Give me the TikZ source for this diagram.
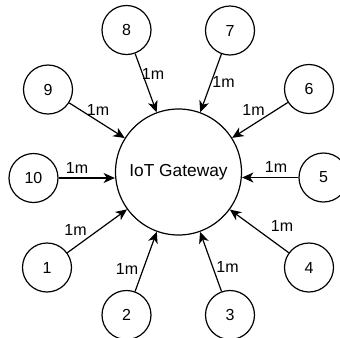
\documentclass[tikz,border=0pt]{standalone}
\usepackage{fontspec}
\setmainfont{Liberation Sans}
\usetikzlibrary{arrows.meta}
\begin{document}
\begin{tikzpicture}[x=0.75pt,y=-0.75pt,
  small/.style={circle,draw=black,line width=0.9pt,fill=white,minimum size=36.75pt,inner sep=0pt,font=\fontsize{12}{14}\selectfont},
  big/.style={circle,draw=black,line width=0.9pt,fill=white,minimum size=94.5pt,inner sep=0pt,font=\fontsize{13}{15}\selectfont},
  arr/.style={line width=0.9pt,-{Stealth[length=8.5pt,width=7.5pt,inset=2.5pt]}},
  lbl/.style={inner sep=0pt,font=\fontsize{12}{14}\selectfont}]
\useasboundingbox[fill=white] (0,0) rectangle (340,337);
\begin{scope}
\clip (0,0) rectangle (340,337);
\node[big] (gw) at (178.5,172) {IoT Gateway};
\node[small] (n8) at (126.5,30) {8};
\node[small] (n7) at (230,30.5) {7};
\node[small] (n9) at (48,89.5) {9};
\node[small] (n6) at (309,89) {6};
\node[small] (n10) at (33.5,178) {10};
\node[small] (n5) at (323.5,177.5) {5};
\node[small] (n1) at (47,267.5) {1};
\node[small] (n4) at (309,267.5) {4};
\node[small] (n2) at (126.5,315) {2};
\node[small] (n3) at (230,315) {3};
\draw[arr] (n8) -- (gw);
\draw[arr] (n7) -- (gw);
\draw[arr] (n9) -- (gw);
\draw[arr] (n6) -- (gw);
\draw[arr] (n10) -- (n10 -| gw.west);
\draw[arr] (n5) -- (n5 -| gw.east);
\draw[arr] (n1) -- (gw);
\draw[arr] (n4) -- (gw);
\draw[arr] (n2) -- (gw);
\draw[arr] (n3) -- (gw);
\node[lbl] (l8) at (153,74) {1m};
\node[lbl] (l7) at (223.5,82) {1m};
\node[lbl] (l9) at (98,109.5) {1m};
\node[lbl] (l6) at (253.5,110) {1m};
\node[lbl] (l10) at (77,167.5) {1m};
\node[lbl] (l5) at (276,166.5) {1m};
\node[lbl] (l1) at (75.5,229.5) {1m};
\node[lbl] (l4) at (282,225.5) {1m};
\node[lbl] (l2) at (127,269) {1m};
\node[lbl] (l3) at (227.5,266.5) {1m};
\end{scope}
\end{tikzpicture}
\end{document}
